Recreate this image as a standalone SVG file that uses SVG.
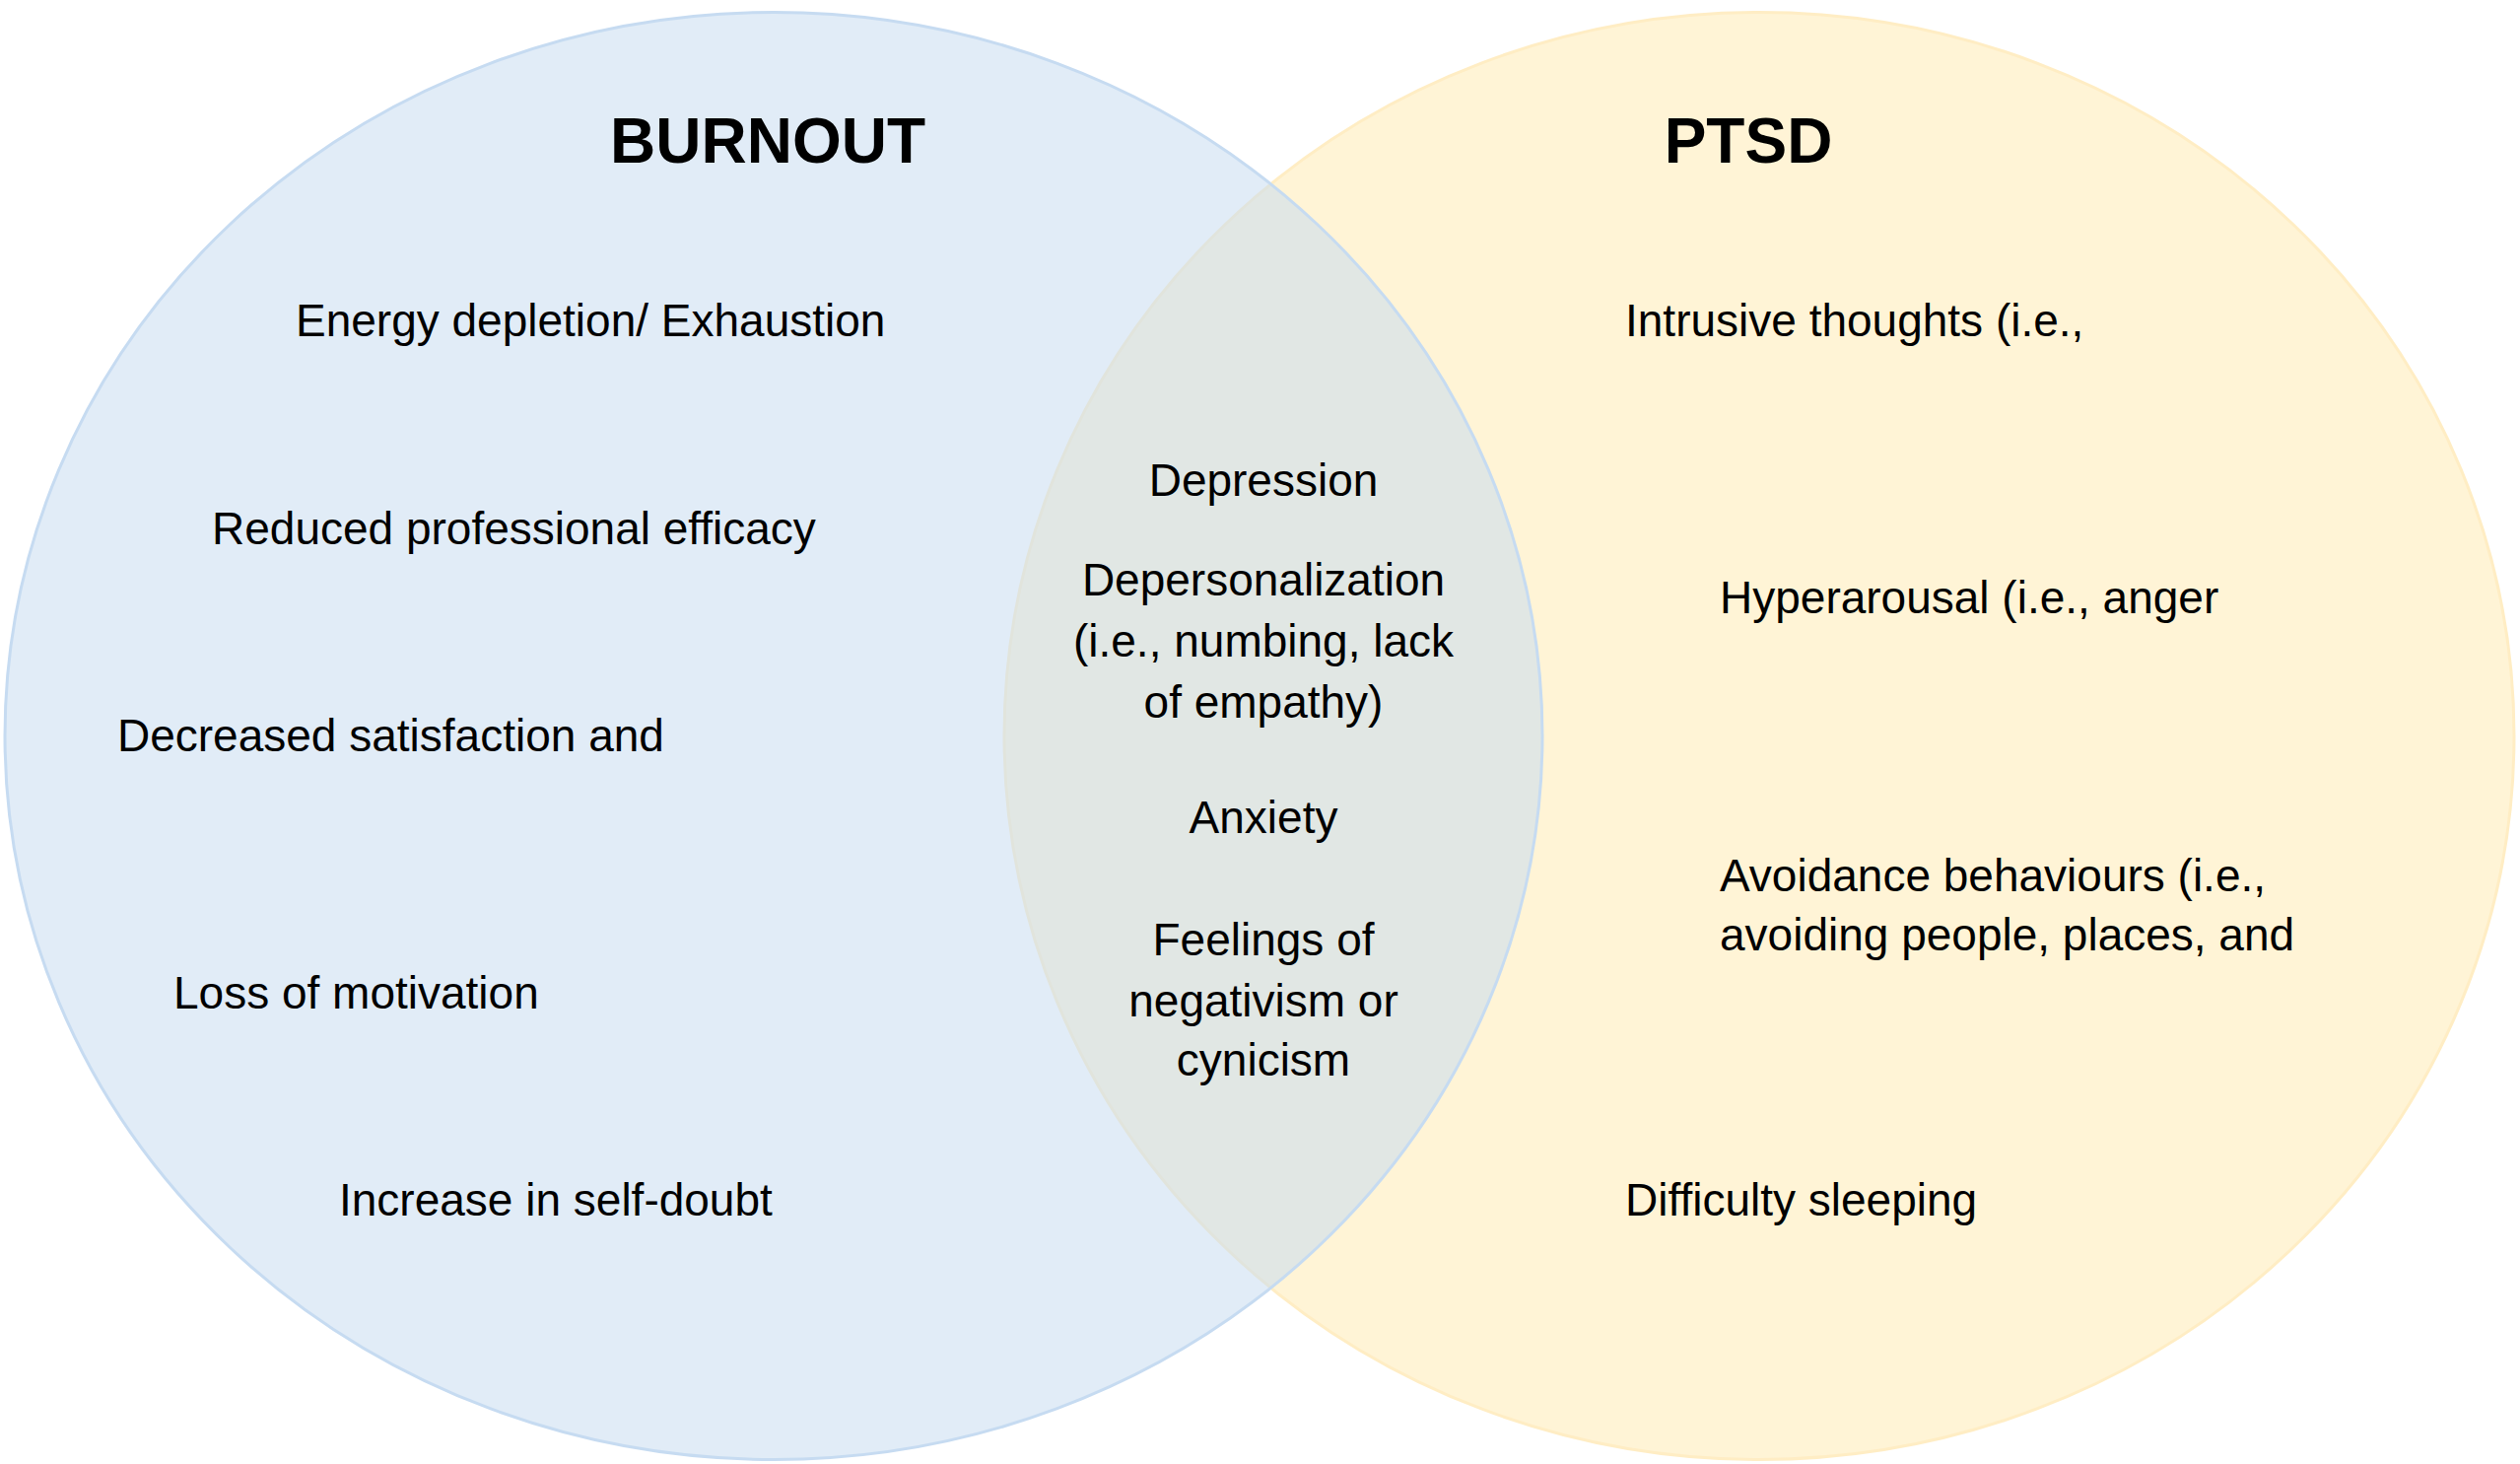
<svg xmlns="http://www.w3.org/2000/svg" width="2557" height="1485" viewBox="0 0 2557 1485">
<style>
.t{font-family:"Liberation Sans",Arial,Helvetica,sans-serif;font-size:46px;fill:#000}
.h{font-family:"Liberation Sans",Arial,Helvetica,sans-serif;font-size:64px;font-weight:bold;fill:#000;text-anchor:middle}
.m{text-anchor:middle}
</style>
<rect width="2557" height="1485" fill="#ffffff"/>
<g id="ptsd">
<ellipse cx="1785" cy="746.5" rx="766" ry="734" fill="#fff4d6" stroke="#ffedc4" stroke-width="3"/>
<text class="h" x="1774" y="165">PTSD</text>
<text class="t" x="1649" y="341">Intrusive thoughts (i.e.,</text>
<text class="t" x="1745" y="622">Hyperarousal (i.e., anger</text>
<text class="t" x="1745" y="904">Avoidance behaviours (i.e.,</text>
<text class="t" x="1745" y="964">avoiding people, places, and</text>
<text class="t" x="1649" y="1233">Difficulty sleeping</text>
</g>
<g id="burnout">
<ellipse cx="785" cy="746.5" rx="780" ry="734" fill="#c8dcf0" fill-opacity="0.55" stroke="#c6dbf1" stroke-width="3"/>
<text class="h" x="779" y="165">BURNOUT</text>
<text class="t" x="300" y="341">Energy depletion/ Exhaustion</text>
<text class="t" x="215" y="552">Reduced professional efficacy</text>
<text class="t" x="119" y="762">Decreased satisfaction and</text>
<text class="t" x="176" y="1023">Loss of motivation</text>
<text class="t" x="344" y="1233">Increase in self-doubt</text>
</g>
<g id="overlap">
<text class="t m" x="1282" y="503">Depression</text>
<text class="t m" x="1282" y="604">Depersonalization</text>
<text class="t m" x="1282" y="666">(i.e., numbing, lack</text>
<text class="t m" x="1282" y="728">of empathy)</text>
<text class="t m" x="1282" y="845">Anxiety</text>
<text class="t m" x="1282" y="969">Feelings of</text>
<text class="t m" x="1282" y="1031">negativism or</text>
<text class="t m" x="1282" y="1091">cynicism</text>
</g>
<g id="connectors"/>
</svg>
